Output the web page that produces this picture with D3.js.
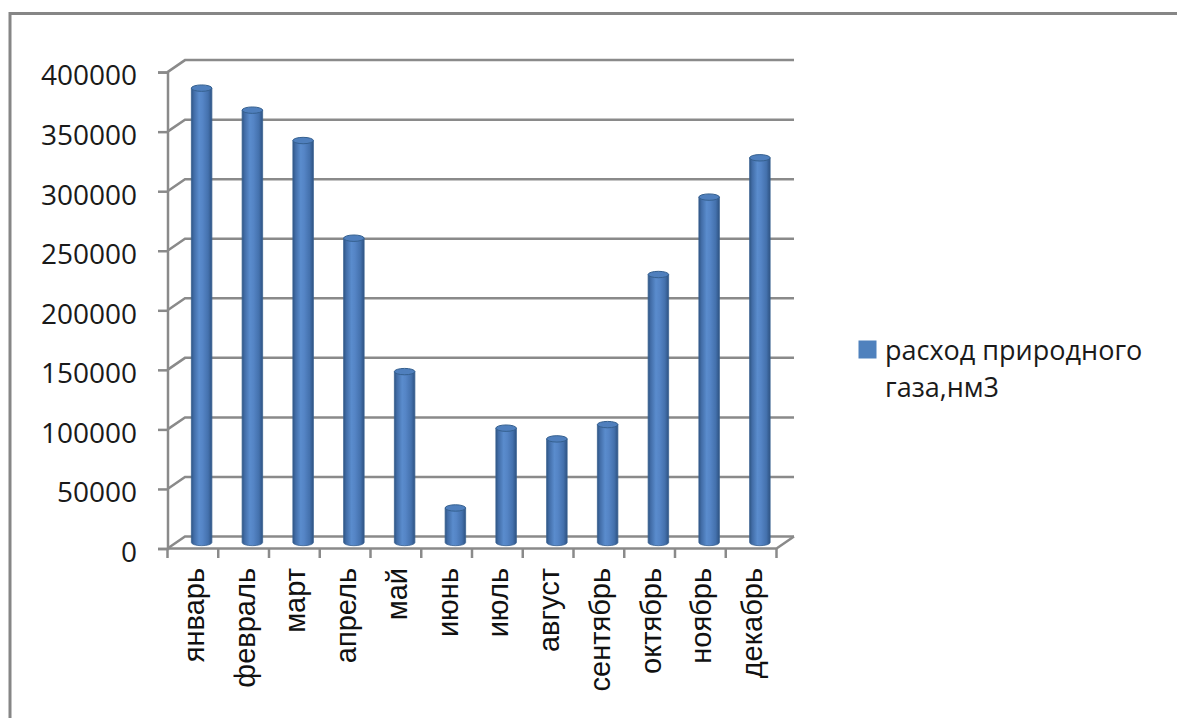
<!DOCTYPE html>
<html><head><meta charset="utf-8">
<script src="https://cdn.jsdelivr.net/npm/d3@7"></script>
<style>html,body{margin:0;padding:0;background:#fff;}svg{display:block;}</style>
</head><body>
<svg id="c" width="1177" height="718"></svg>
<script>
const months = ["январь","февраль","март","апрель","май","июнь","июль","август","сентябрь","октябрь","ноябрь","декабрь"];
const gasUse = [381500, 363000, 337500, 255500, 143500, 29000, 96000, 87000, 99000, 225000, 290000, 323000];
const yTicks = [0, 50000, 100000, 150000, 200000, 250000, 300000, 350000, 400000];
const seriesName = ["расход природного", "газа,нм3"];

const svg = d3.select("#c");
const W = 1177, H = 718;
svg.append("rect").attr("width", W).attr("height", H).attr("fill", "#fff");
// chart area border (extends past right/bottom)
svg.append("path").attr("d", `M10,${H+5} L10,13.5 L${W+5},13.5`)
  .attr("fill", "none").attr("stroke", "#868686").attr("stroke-width", 3);

const front = {x0: 167.5, w: 609, y0: 548.5, h: 476.4};
const DX = 17.5, DY = -12; // depth offset front->back

const x = d3.scaleBand().domain(months).range([front.x0, front.x0 + front.w]).padding(0);
const y = d3.scaleLinear().domain([0, 400000]).range([front.y0, front.y0 - front.h]);

const grid = "#8a8a8a";
const g = svg.append("g");

// back-wall gridlines + side-wall diagonals
yTicks.forEach(t => {
  const yf = y(t), yb = y(t) + DY;
  g.append("path")
    .attr("d", `M${front.x0},${yf} L${front.x0 + DX},${yb} L${front.x0 + front.w + DX},${yb}`)
    .attr("fill", "none").attr("stroke", grid).attr("stroke-width", 2.5);
});
// floor
g.append("path")
  .attr("d", `M${front.x0},${y(0)} L${front.x0 + front.w},${y(0)} L${front.x0 + front.w + DX},${y(0) + DY}`)
  .attr("fill", "none").attr("stroke", grid).attr("stroke-width", 2.5);

// front y axis
const yAxis = d3.axisLeft(y).tickValues(yTicks).tickSize(9.5).tickPadding(21).tickFormat(d3.format("d"));
const ya = svg.append("g").attr("transform", `translate(${front.x0},0)`).call(yAxis);
ya.select(".domain").attr("stroke", grid).attr("stroke-width", 2.5);
ya.selectAll(".tick line").attr("stroke", grid).attr("stroke-width", 2.5);
ya.selectAll(".tick text").attr("font-family", "'Open Sans', sans-serif").attr("font-size", 28)
  .attr("fill", "#1a1a1a").attr("dy", "0.46em");

// x axis ticks at band boundaries
const bounds = months.map(m => x(m)).concat([x(months[months.length - 1]) + x.bandwidth()]);
svg.append("g").selectAll("line").data(bounds).join("line")
  .attr("x1", d => d).attr("x2", d => d).attr("y1", y(0)).attr("y2", y(0) + 9.5)
  .attr("stroke", grid).attr("stroke-width", 2.5);

// x labels
svg.append("g").selectAll("text").data(months).join("text")
  .attr("transform", d => `translate(${x(d) + x.bandwidth() / 2 + 11},568) rotate(-90)`)
  .attr("text-anchor", "end")
  .attr("font-family", "'Liberation Sans', Arial, sans-serif").attr("font-size", 29)
  .attr("fill", "#111").text(d => d);

// cylinder gradients
const defs = svg.append("defs");
const grad = defs.append("linearGradient").attr("id", "cyl").attr("x1", "0").attr("x2", "1").attr("y1", "0").attr("y2", "0");
[[0, "#2f5584"], [0.12, "#416ca6"], [0.38, "#5a8ccd"], [0.55, "#5585c6"], [0.82, "#4471ad"], [1, "#2e5383"]]
  .forEach(([o, c]) => grad.append("stop").attr("offset", o).attr("stop-color", c));

const R = 10.25, RY = 3.2;
const bars = svg.append("g");
months.forEach((m, i) => {
  const cx = x(m) + x.bandwidth() / 2 + DX / 2;
  const y0 = y(0) + DY / 2;
  const yt = y(gasUse[i]) + DY / 2;
  bars.append("path")
    .attr("d", `M${cx - R},${yt} L${cx - R},${y0} A${R},${RY} 0 0 0 ${cx + R},${y0} L${cx + R},${yt} Z`)
    .attr("fill", "url(#cyl)").attr("stroke", "#3a6292").attr("stroke-width", 0.8);
  bars.append("ellipse").attr("cx", cx).attr("cy", yt).attr("rx", R).attr("ry", RY)
    .attr("fill", "#4f7fbd").attr("stroke", "#35608f").attr("stroke-width", 1);
});

// legend
const lg = svg.append("g");
lg.append("rect").attr("x", 858.5).attr("y", 340.5).attr("width", 18).attr("height", 18).attr("fill", "#4f81bd");
lg.selectAll("text").data(seriesName).join("text")
  .attr("x", 885).attr("y", (d, i) => 359.5 + i * 37.5)
  .attr("font-family", "'Open Sans', sans-serif").attr("font-size", 27).attr("fill", "#1a1a1a")
  .text(d => d);
</script>
</body></html>
